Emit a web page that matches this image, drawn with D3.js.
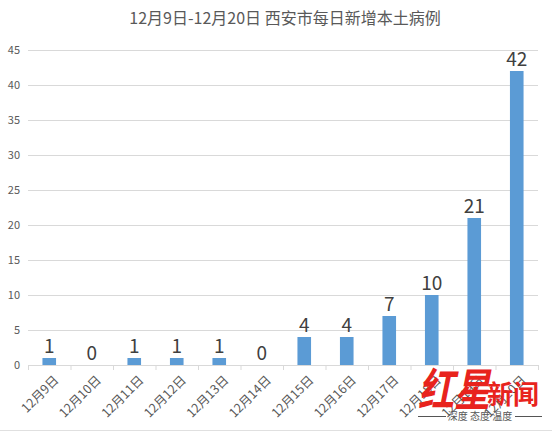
<!DOCTYPE html>
<html><head><meta charset="utf-8">
<script src="https://cdn.jsdelivr.net/npm/d3@7"></script>
<style>body{margin:0;background:#fff}svg{display:block}text{font-family:"Noto Sans CJK SC","Microsoft YaHei",sans-serif}</style>
</head><body>
<svg id="c" width="552" height="432"></svg>
<script>
const categories = ["12月9日","12月10日","12月11日","12月12日","12月13日","12月14日","12月15日","12月16日","12月17日","12月18日","12月19日","12月20日"];
const values = [1,0,1,1,1,0,4,4,7,10,21,42];
const yTicks = [0,5,10,15,20,25,30,35,40,45];
const title = "12月9日-12月20日 西安市每日新增本土病例";

const svg = d3.select("#c");
const x = d3.scaleBand().domain(categories).range([28,538]).paddingInner(0.68).paddingOuter(0.34);
const y = d3.scaleLinear().domain([0,45]).range([365,50]);

svg.append("text").attr("x",285).attr("y",24).attr("text-anchor","middle")
  .attr("font-size",16).attr("fill","#595959").text(title);

// grid
svg.append("g").selectAll("line").data(yTicks.filter(d=>d>0)).join("line")
  .attr("x1",28).attr("x2",538).attr("y1",d=>y(d)+0.5).attr("y2",d=>y(d)+0.5)
  .attr("stroke","#d9d9d9").attr("stroke-width",1);
svg.append("g").selectAll("text").data(yTicks).join("text")
  .attr("x",20).attr("y",d=>y(d)+4).attr("text-anchor","end")
  .attr("font-size",11).attr("fill","#595959").text(d=>d);

// bars
svg.append("g").selectAll("rect").data(values).join("rect")
  .attr("x",(d,i)=>x(categories[i])).attr("width",x.bandwidth())
  .attr("y",d=>y(d)).attr("height",d=>y(0)-y(d)).attr("fill","#5b9bd5");

// axis line and ticks
const band = (538-28)/categories.length;
svg.append("line").attr("x1",28).attr("x2",538).attr("y1",365.5).attr("y2",365.5).attr("stroke","#d9d9d9");
svg.append("g").selectAll("line").data(d3.range(categories.length+1)).join("line")
  .attr("x1",i=>28+i*band+0.5).attr("x2",i=>28+i*band+0.5).attr("y1",365).attr("y2",370).attr("stroke","#d9d9d9");

// value labels
svg.append("g").selectAll("text").data(values).join("text")
  .attr("x",(d,i)=>x(categories[i])+x.bandwidth()/2).attr("y",d=>y(d)-5)
  .attr("text-anchor","middle").attr("font-size",19).attr("fill","#404040")
  .attr("font-family","Liberation Sans, Arial, sans-serif").text(d=>d);

// category labels
svg.append("g").selectAll("text").data(categories).join("text")
  .attr("transform",d=>`translate(${x(d)+x.bandwidth()/2+10},${381}) rotate(-45)`)
  .attr("text-anchor","end").attr("font-size",12.5).attr("fill","#595959").text(d=>d);

// bottom border
svg.append("line").attr("x1",0).attr("x2",552).attr("y1",430.5).attr("y2",430.5).attr("stroke","#e0e0e0");

// watermark
const wm = svg.append("g");
wm.append("text").attr("transform","translate(418,406) scale(1,1.25)").attr("font-size",36).attr("font-weight","bold")
  .attr("fill","#e8231d").attr("font-style","italic").text("红星");
wm.append("text").attr("x",487).attr("y",404).attr("font-size",26).attr("font-weight","bold")
  .attr("fill","#e8231d").attr("font-family","Noto Serif CJK SC, Noto Sans CJK SC, serif").text("新闻");
wm.append("line").attr("x1",418).attr("x2",446).attr("y1",416.5).attr("y2",416.5).attr("stroke","#555");
wm.append("line").attr("x1",515).attr("x2",542).attr("y1",416.5).attr("y2",416.5).attr("stroke","#555");
wm.append("text").attr("x",480).attr("y",420).attr("text-anchor","middle").attr("font-size",10).attr("fill","#555").text("深度 态度 温度");
</script>
</body></html>
